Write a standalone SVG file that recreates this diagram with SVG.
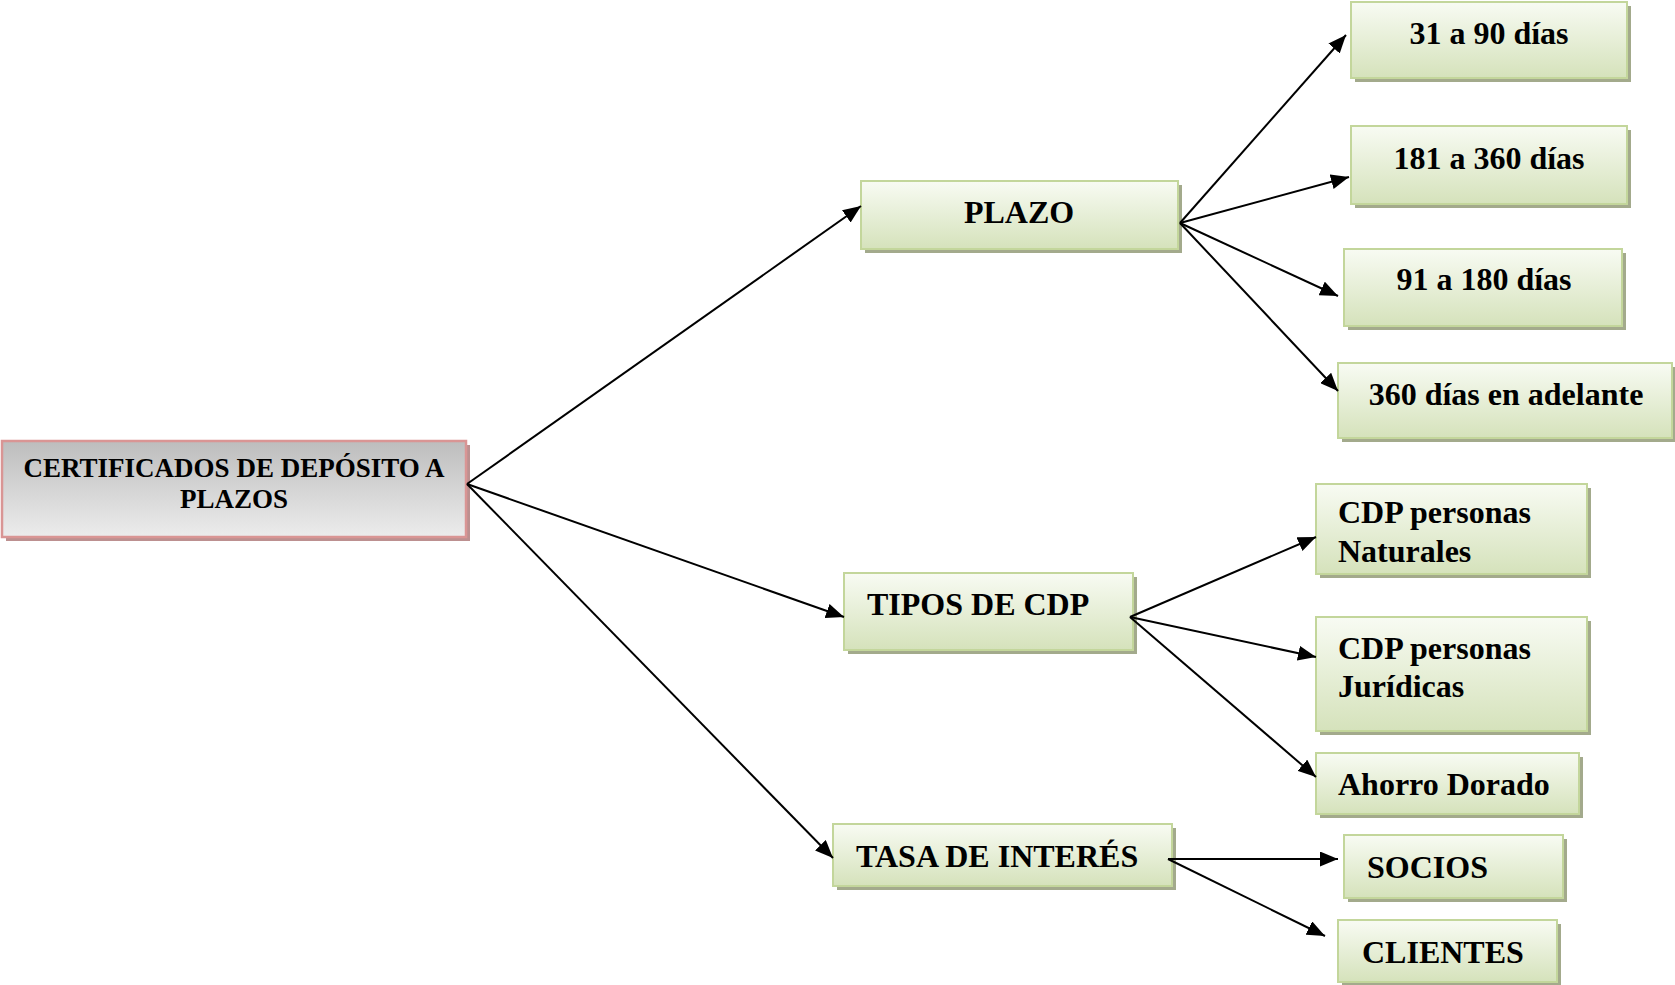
<svg xmlns="http://www.w3.org/2000/svg" width="1675" height="985" viewBox="0 0 1675 985">
<style>
text{font-family:"Liberation Serif","Times New Roman",serif;font-weight:bold;fill:#000}
.t{font-size:32px}
.m{font-size:27px}
.g{fill:url(#gg);stroke:#c3d69b;stroke-width:2}
.gs{fill:#a3aa8c}
.r{fill:url(#rg);stroke:#d99594;stroke-width:2.5}
.rs{fill:#bc9090}
.c line{stroke:#000;stroke-width:2;marker-end:url(#ah)}
</style>
<defs>
<linearGradient id="gg" x1="0" y1="0" x2="0" y2="1">
<stop offset="0" stop-color="#f8fbf3"/>
<stop offset="1" stop-color="#d5e2bb"/>
</linearGradient>
<linearGradient id="rg" x1="0" y1="0" x2="0" y2="1">
<stop offset="0" stop-color="#bdbdbd"/>
<stop offset="1" stop-color="#ececec"/>
</linearGradient>
<marker id="ah" markerUnits="userSpaceOnUse" markerWidth="19" markerHeight="15" refX="18" refY="7.5" orient="auto">
<path d="M0,0 L18,7.5 L0,15 Z" fill="#000"/>
</marker>
</defs>

<g id="main">
<rect class="rs" x="6" y="445" width="464" height="96"/>
<rect class="r" x="2" y="441" width="464" height="96"/>
<text class="m" x="234" y="477" text-anchor="middle">CERTIFICADOS DE DEPÓSITO A</text>
<text class="m" x="234" y="508" text-anchor="middle">PLAZOS</text>
</g>

<g id="plazo">
<rect class="gs" x="865" y="185" width="317" height="68"/>
<rect class="g" x="861" y="181" width="317" height="68"/>
<text class="t" x="1019" y="223" text-anchor="middle">PLAZO</text>
</g>

<g id="p31">
<rect class="gs" x="1355" y="6" width="276" height="76"/>
<rect class="g" x="1351" y="2" width="276" height="76"/>
<text class="t" x="1489" y="44" text-anchor="middle">31 a 90 días</text>
</g>

<g id="p181">
<rect class="gs" x="1355" y="130" width="276" height="78"/>
<rect class="g" x="1351" y="126" width="276" height="78"/>
<text class="t" x="1489" y="169" text-anchor="middle">181 a 360 días</text>
</g>

<g id="p91">
<rect class="gs" x="1348" y="253" width="278" height="77"/>
<rect class="g" x="1344" y="249" width="278" height="77"/>
<text class="t" x="1484" y="290" text-anchor="middle">91 a 180 días</text>
</g>

<g id="p360">
<rect class="gs" x="1342" y="367" width="333" height="75"/>
<rect class="g" x="1338" y="363" width="334" height="75"/>
<text class="t" x="1506" y="405" text-anchor="middle">360 días en adelante</text>
</g>

<g id="tipos">
<rect class="gs" x="848" y="577" width="289" height="77"/>
<rect class="g" x="844" y="573" width="289" height="77"/>
<text class="t" x="867" y="615">TIPOS DE CDP</text>
</g>

<g id="cdpn">
<rect class="gs" x="1320" y="488" width="271" height="90"/>
<rect class="g" x="1316" y="484" width="271" height="90"/>
<text class="t" x="1338" y="523">CDP personas</text>
<text class="t" x="1338" y="562">Naturales</text>
</g>

<g id="cdpj">
<rect class="gs" x="1320" y="621" width="271" height="114"/>
<rect class="g" x="1316" y="617" width="271" height="114"/>
<text class="t" x="1338" y="659">CDP personas</text>
<text class="t" x="1338" y="697">Jurídicas</text>
</g>

<g id="ahorro">
<rect class="gs" x="1320" y="757" width="263" height="61"/>
<rect class="g" x="1316" y="753" width="263" height="61"/>
<text class="t" x="1338" y="795">Ahorro Dorado</text>
</g>

<g id="tasa">
<rect class="gs" x="837" y="828" width="339" height="62"/>
<rect class="g" x="833" y="824" width="339" height="62"/>
<text class="t" x="856" y="867">TASA DE INTERÉS</text>
</g>

<g id="socios">
<rect class="gs" x="1348" y="839" width="219" height="63"/>
<rect class="g" x="1344" y="835" width="219" height="63"/>
<text class="t" x="1367" y="878">SOCIOS</text>
</g>

<g id="clientes">
<rect class="gs" x="1342" y="924" width="219" height="61"/>
<rect class="g" x="1338" y="920" width="219" height="62"/>
<text class="t" x="1362" y="963">CLIENTES</text>
</g>

<g id="connectors" class="c">
<line x1="467" y1="484" x2="861" y2="206"/>
<line x1="467" y1="484" x2="844" y2="617"/>
<line x1="467" y1="484" x2="833" y2="858"/>
<line x1="1180" y1="223" x2="1346" y2="35"/>
<line x1="1180" y1="223" x2="1349" y2="177"/>
<line x1="1180" y1="223" x2="1338" y2="296"/>
<line x1="1180" y1="223" x2="1338" y2="391"/>
<line x1="1130" y1="617" x2="1316" y2="537"/>
<line x1="1130" y1="617" x2="1316" y2="657"/>
<line x1="1130" y1="617" x2="1316" y2="777"/>
<line x1="1168" y1="859" x2="1338" y2="859"/>
<line x1="1168" y1="859" x2="1325" y2="936"/>
</g>
</svg>
